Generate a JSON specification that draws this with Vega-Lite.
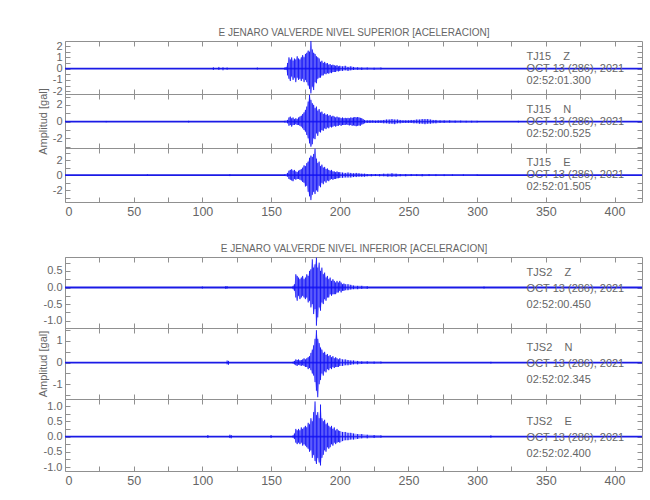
{
"$schema": "https://vega.github.io/schema/vega-lite/v6.json",
"padding": {"left": 36, "top": 27, "right": 5, "bottom": 5},
"background": "white",
"spacing": 26,
"datasets": {
"base": [{"p":1,"t0":0,"t1":420,"z":0},{"p":2,"t0":0,"t1":420,"z":0},{"p":3,"t0":0,"t1":420,"z":0},{"p":4,"t0":0,"t1":420,"z":0},{"p":5,"t0":0,"t1":420,"z":0},{"p":6,"t0":0,"t1":420,"z":0}],
"lab": [
{"p":1,"tx":336,"z":0,"s":"TJ15\u00a0\u00a0\u00a0\u00a0Z\nOCT 13 (286), 2021\n02:52:01.300"},
{"p":2,"tx":336,"z":0,"s":"TJ15\u00a0\u00a0\u00a0\u00a0N\nOCT 13 (286), 2021\n02:52:00.525"},
{"p":3,"tx":336,"z":0,"s":"TJ15\u00a0\u00a0\u00a0\u00a0E\nOCT 13 (286), 2021\n02:52:01.505"},
{"p":4,"tx":336,"z":0,"s":"TJS2\u00a0\u00a0\u00a0\u00a0Z\nOCT 13 (286), 2021\n02:52:00.450"},
{"p":5,"tx":336,"z":0,"s":"TJS2\u00a0\u00a0\u00a0\u00a0N\nOCT 13 (286), 2021\n02:52:02.345"},
{"p":6,"tx":336,"z":0,"s":"TJS2\u00a0\u00a0\u00a0\u00a0E\nOCT 13 (286), 2021\n02:52:02.400"}],
"noise": [
{"p":1,"t":108,"hi":0.12,"lo":-0.12},{"p":1,"t":112,"hi":0.15,"lo":-0.12},{"p":1,"t":115,"hi":0.12,"lo":-0.15},{"p":1,"t":118,"hi":0.1,"lo":-0.1},{"p":1,"t":140,"hi":0.1,"lo":-0.08},{"p":1,"t":337,"hi":0.1,"lo":-0.08},{"p":1,"t":345,"hi":0.08,"lo":-0.1},
{"p":2,"t":30,"hi":0.08,"lo":-0.08},{"p":2,"t":90,"hi":0.1,"lo":-0.1},{"p":2,"t":330,"hi":0.1,"lo":-0.1},
{"p":3,"t":60,"hi":0.1,"lo":-0.1},{"p":3,"t":120,"hi":0.12,"lo":-0.12},{"p":3,"t":340,"hi":0.1,"lo":-0.1},
{"p":4,"t":100,"hi":0.03,"lo":-0.03},{"p":4,"t":117,"hi":0.04,"lo":-0.04},{"p":4,"t":118,"hi":0.04,"lo":-0.03},{"p":4,"t":305,"hi":0.03,"lo":-0.03},
{"p":5,"t":118,"hi":0.1,"lo":-0.08},{"p":5,"t":119,"hi":0.08,"lo":-0.1},{"p":5,"t":310,"hi":0.04,"lo":-0.04},
{"p":6,"t":104,"hi":0.05,"lo":-0.05},{"p":6,"t":120,"hi":0.06,"lo":-0.05},{"p":6,"t":121,"hi":0.05,"lo":-0.06},{"p":6,"t":150,"hi":0.05,"lo":-0.05},{"p":6,"t":310,"hi":0.04,"lo":-0.04}],
"env": [
{"p":1,"t":160,"hi":0.1,"lo":-0.1},{"p":1,"t":161,"hi":0.15,"lo":-0.12},{"p":1,"t":162,"hi":0.5,"lo":-0.6},{"p":1,"t":163,"hi":1.0,"lo":-0.9},{"p":1,"t":164,"hi":0.8,"lo":-1.1},{"p":1,"t":165,"hi":1.0,"lo":-0.7},{"p":1,"t":166,"hi":0.7,"lo":-1.0},{"p":1,"t":167,"hi":0.9,"lo":-0.8},{"p":1,"t":168,"hi":0.8,"lo":-1.2},{"p":1,"t":169,"hi":1.1,"lo":-0.8},{"p":1,"t":170,"hi":0.9,"lo":-1.0},{"p":1,"t":171,"hi":0.8,"lo":-0.9},{"p":1,"t":172,"hi":1.0,"lo":-1.1},{"p":1,"t":173,"hi":1.2,"lo":-0.9},{"p":1,"t":174,"hi":1.0,"lo":-1.2},{"p":1,"t":175,"hi":1.3,"lo":-1.0},{"p":1,"t":176,"hi":1.4,"lo":-1.2},{"p":1,"t":177,"hi":1.6,"lo":-1.5},{"p":1,"t":178,"hi":1.5,"lo":-1.8},{"p":1,"t":179,"hi":2.45,"lo":-2.2},{"p":1,"t":180,"hi":1.7,"lo":-1.6},{"p":1,"t":181,"hi":1.4,"lo":-1.9},{"p":1,"t":182,"hi":1.3,"lo":-1.2},{"p":1,"t":183,"hi":1.1,"lo":-1.3},{"p":1,"t":184,"hi":1.0,"lo":-0.9},{"p":1,"t":185,"hi":0.9,"lo":-0.8},{"p":1,"t":186,"hi":0.6,"lo":-0.8},{"p":1,"t":187,"hi":0.7,"lo":-0.6},{"p":1,"t":188,"hi":0.5,"lo":-0.6},{"p":1,"t":189,"hi":0.6,"lo":-0.45},{"p":1,"t":190,"hi":0.45,"lo":-0.5},{"p":1,"t":191,"hi":0.5,"lo":-0.4},{"p":1,"t":192,"hi":0.35,"lo":-0.45},{"p":1,"t":193,"hi":0.4,"lo":-0.35},{"p":1,"t":194,"hi":0.3,"lo":-0.4},{"p":1,"t":195,"hi":0.35,"lo":-0.3},{"p":1,"t":196,"hi":0.3,"lo":-0.3},{"p":1,"t":197,"hi":0.25,"lo":-0.3},{"p":1,"t":198,"hi":0.3,"lo":-0.2},{"p":1,"t":199,"hi":0.2,"lo":-0.25},{"p":1,"t":200,"hi":0.25,"lo":-0.2},{"p":1,"t":202,"hi":0.2,"lo":-0.2},{"p":1,"t":204,"hi":0.25,"lo":-0.15},{"p":1,"t":206,"hi":0.15,"lo":-0.2},{"p":1,"t":208,"hi":0.2,"lo":-0.15},{"p":1,"t":210,"hi":0.15,"lo":-0.12},{"p":1,"t":213,"hi":0.12,"lo":-0.1},{"p":1,"t":216,"hi":0.1,"lo":-0.12},{"p":1,"t":220,"hi":0.1,"lo":-0.08},{"p":1,"t":225,"hi":0.08,"lo":-0.1},{"p":1,"t":230,"hi":0.1,"lo":-0.08},
{"p":2,"t":160,"hi":0.1,"lo":-0.1},{"p":2,"t":162,"hi":0.2,"lo":-0.2},{"p":2,"t":163,"hi":0.5,"lo":-0.5},{"p":2,"t":164,"hi":0.6,"lo":-0.4},{"p":2,"t":165,"hi":0.4,"lo":-0.6},{"p":2,"t":166,"hi":0.5,"lo":-0.4},{"p":2,"t":167,"hi":0.3,"lo":-0.4},{"p":2,"t":168,"hi":0.4,"lo":-0.3},{"p":2,"t":169,"hi":0.3,"lo":-0.4},{"p":2,"t":170,"hi":0.5,"lo":-0.4},{"p":2,"t":171,"hi":0.6,"lo":-0.5},{"p":2,"t":172,"hi":0.7,"lo":-0.6},{"p":2,"t":173,"hi":0.9,"lo":-0.8},{"p":2,"t":174,"hi":1.1,"lo":-1.0},{"p":2,"t":175,"hi":1.4,"lo":-1.2},{"p":2,"t":176,"hi":1.8,"lo":-1.6},{"p":2,"t":177,"hi":2.4,"lo":-2.0},{"p":2,"t":178,"hi":3.2,"lo":-2.6},{"p":2,"t":179,"hi":2.6,"lo":-3.0},{"p":2,"t":180,"hi":2.2,"lo":-2.7},{"p":2,"t":181,"hi":2.0,"lo":-2.0},{"p":2,"t":182,"hi":1.6,"lo":-2.1},{"p":2,"t":183,"hi":1.8,"lo":-1.4},{"p":2,"t":184,"hi":1.3,"lo":-1.7},{"p":2,"t":185,"hi":1.5,"lo":-1.2},{"p":2,"t":186,"hi":1.1,"lo":-1.3},{"p":2,"t":187,"hi":1.2,"lo":-1.0},{"p":2,"t":188,"hi":0.9,"lo":-1.1},{"p":2,"t":189,"hi":1.0,"lo":-0.8},{"p":2,"t":190,"hi":0.8,"lo":-0.9},{"p":2,"t":191,"hi":0.9,"lo":-0.7},{"p":2,"t":192,"hi":0.7,"lo":-0.8},{"p":2,"t":193,"hi":0.8,"lo":-0.6},{"p":2,"t":194,"hi":0.6,"lo":-0.7},{"p":2,"t":195,"hi":0.7,"lo":-0.6},{"p":2,"t":196,"hi":0.6,"lo":-0.5},{"p":2,"t":197,"hi":0.5,"lo":-0.6},{"p":2,"t":198,"hi":0.6,"lo":-0.5},{"p":2,"t":199,"hi":0.5,"lo":-0.5},{"p":2,"t":200,"hi":0.5,"lo":-0.4},{"p":2,"t":201,"hi":0.4,"lo":-0.5},{"p":2,"t":202,"hi":0.5,"lo":-0.4},{"p":2,"t":203,"hi":0.4,"lo":-0.4},{"p":2,"t":204,"hi":0.45,"lo":-0.4},{"p":2,"t":205,"hi":0.4,"lo":-0.35},{"p":2,"t":206,"hi":0.45,"lo":-0.4},{"p":2,"t":207,"hi":0.4,"lo":-0.45},{"p":2,"t":208,"hi":0.5,"lo":-0.4},{"p":2,"t":209,"hi":0.45,"lo":-0.5},{"p":2,"t":210,"hi":0.5,"lo":-0.45},{"p":2,"t":211,"hi":0.55,"lo":-0.5},{"p":2,"t":212,"hi":0.5,"lo":-0.55},{"p":2,"t":213,"hi":0.55,"lo":-0.5},{"p":2,"t":214,"hi":0.5,"lo":-0.45},{"p":2,"t":215,"hi":0.45,"lo":-0.5},{"p":2,"t":216,"hi":0.4,"lo":-0.35},{"p":2,"t":217,"hi":0.3,"lo":-0.3},{"p":2,"t":218,"hi":0.2,"lo":-0.2},{"p":2,"t":220,"hi":0.15,"lo":-0.15},{"p":2,"t":222,"hi":0.15,"lo":-0.15},{"p":2,"t":224,"hi":0.15,"lo":-0.12},{"p":2,"t":226,"hi":0.12,"lo":-0.15},{"p":2,"t":228,"hi":0.15,"lo":-0.15},{"p":2,"t":230,"hi":0.15,"lo":-0.15},{"p":2,"t":232,"hi":0.2,"lo":-0.2},{"p":2,"t":234,"hi":0.25,"lo":-0.2},{"p":2,"t":236,"hi":0.25,"lo":-0.25},{"p":2,"t":238,"hi":0.3,"lo":-0.25},{"p":2,"t":240,"hi":0.25,"lo":-0.3},{"p":2,"t":242,"hi":0.25,"lo":-0.2},{"p":2,"t":244,"hi":0.2,"lo":-0.2},{"p":2,"t":246,"hi":0.15,"lo":-0.15},{"p":2,"t":248,"hi":0.15,"lo":-0.15},{"p":2,"t":250,"hi":0.15,"lo":-0.15},{"p":2,"t":252,"hi":0.2,"lo":-0.15},{"p":2,"t":254,"hi":0.2,"lo":-0.2},{"p":2,"t":256,"hi":0.25,"lo":-0.2},{"p":2,"t":258,"hi":0.25,"lo":-0.25},{"p":2,"t":260,"hi":0.3,"lo":-0.25},{"p":2,"t":262,"hi":0.3,"lo":-0.3},{"p":2,"t":264,"hi":0.3,"lo":-0.25},{"p":2,"t":266,"hi":0.25,"lo":-0.25},{"p":2,"t":268,"hi":0.2,"lo":-0.2},{"p":2,"t":270,"hi":0.2,"lo":-0.2},{"p":2,"t":273,"hi":0.15,"lo":-0.15},{"p":2,"t":276,"hi":0.15,"lo":-0.15},{"p":2,"t":280,"hi":0.15,"lo":-0.12},{"p":2,"t":284,"hi":0.12,"lo":-0.12},{"p":2,"t":288,"hi":0.12,"lo":-0.1},{"p":2,"t":292,"hi":0.1,"lo":-0.1},{"p":2,"t":296,"hi":0.1,"lo":-0.1},{"p":2,"t":300,"hi":0.1,"lo":-0.1},
{"p":3,"t":160,"hi":0.1,"lo":-0.1},{"p":3,"t":162,"hi":0.3,"lo":-0.2},{"p":3,"t":163,"hi":0.6,"lo":-0.5},{"p":3,"t":164,"hi":0.7,"lo":-0.6},{"p":3,"t":165,"hi":0.8,"lo":-0.7},{"p":3,"t":166,"hi":0.6,"lo":-0.8},{"p":3,"t":167,"hi":0.7,"lo":-0.5},{"p":3,"t":168,"hi":0.5,"lo":-0.6},{"p":3,"t":169,"hi":0.4,"lo":-0.5},{"p":3,"t":170,"hi":0.6,"lo":-0.5},{"p":3,"t":171,"hi":0.7,"lo":-0.6},{"p":3,"t":172,"hi":0.8,"lo":-0.7},{"p":3,"t":173,"hi":1.0,"lo":-0.9},{"p":3,"t":174,"hi":1.3,"lo":-1.0},{"p":3,"t":175,"hi":1.2,"lo":-1.5},{"p":3,"t":176,"hi":1.6,"lo":-1.4},{"p":3,"t":177,"hi":1.8,"lo":-2.2},{"p":3,"t":178,"hi":2.3,"lo":-2.8},{"p":3,"t":179,"hi":2.6,"lo":-3.3},{"p":3,"t":180,"hi":2.4,"lo":-2.6},{"p":3,"t":181,"hi":2.8,"lo":-2.2},{"p":3,"t":182,"hi":3.5,"lo":-2.5},{"p":3,"t":183,"hi":2.2,"lo":-2.0},{"p":3,"t":184,"hi":1.6,"lo":-2.2},{"p":3,"t":185,"hi":1.8,"lo":-1.4},{"p":3,"t":186,"hi":1.2,"lo":-1.6},{"p":3,"t":187,"hi":1.4,"lo":-1.0},{"p":3,"t":188,"hi":1.0,"lo":-1.2},{"p":3,"t":189,"hi":1.1,"lo":-0.8},{"p":3,"t":190,"hi":0.8,"lo":-1.0},{"p":3,"t":191,"hi":0.9,"lo":-0.7},{"p":3,"t":192,"hi":0.7,"lo":-0.8},{"p":3,"t":193,"hi":0.6,"lo":-0.6},{"p":3,"t":194,"hi":0.7,"lo":-0.5},{"p":3,"t":195,"hi":0.5,"lo":-0.6},{"p":3,"t":196,"hi":0.5,"lo":-0.5},{"p":3,"t":197,"hi":0.4,"lo":-0.5},{"p":3,"t":198,"hi":0.5,"lo":-0.4},{"p":3,"t":199,"hi":0.4,"lo":-0.4},{"p":3,"t":200,"hi":0.4,"lo":-0.35},{"p":3,"t":202,"hi":0.35,"lo":-0.35},{"p":3,"t":204,"hi":0.3,"lo":-0.3},{"p":3,"t":206,"hi":0.35,"lo":-0.3},{"p":3,"t":208,"hi":0.3,"lo":-0.3},{"p":3,"t":210,"hi":0.25,"lo":-0.25},{"p":3,"t":212,"hi":0.3,"lo":-0.25},{"p":3,"t":214,"hi":0.25,"lo":-0.2},{"p":3,"t":216,"hi":0.2,"lo":-0.2},{"p":3,"t":218,"hi":0.2,"lo":-0.2},{"p":3,"t":220,"hi":0.15,"lo":-0.15},{"p":3,"t":223,"hi":0.15,"lo":-0.15},{"p":3,"t":226,"hi":0.15,"lo":-0.12},{"p":3,"t":229,"hi":0.15,"lo":-0.15},{"p":3,"t":232,"hi":0.2,"lo":-0.15},{"p":3,"t":235,"hi":0.2,"lo":-0.2},{"p":3,"t":238,"hi":0.25,"lo":-0.2},{"p":3,"t":241,"hi":0.2,"lo":-0.2},{"p":3,"t":244,"hi":0.15,"lo":-0.15},{"p":3,"t":248,"hi":0.15,"lo":-0.15},{"p":3,"t":252,"hi":0.15,"lo":-0.12},{"p":3,"t":256,"hi":0.12,"lo":-0.12},{"p":3,"t":260,"hi":0.15,"lo":-0.15},{"p":3,"t":265,"hi":0.15,"lo":-0.12},{"p":3,"t":270,"hi":0.12,"lo":-0.12},{"p":3,"t":276,"hi":0.1,"lo":-0.12},{"p":3,"t":282,"hi":0.1,"lo":-0.1},{"p":3,"t":290,"hi":0.1,"lo":-0.1},{"p":3,"t":300,"hi":0.1,"lo":-0.08},
{"p":4,"t":166,"hi":0.05,"lo":-0.05},{"p":4,"t":167,"hi":0.1,"lo":-0.1},{"p":4,"t":168,"hi":0.4,"lo":-0.3},{"p":4,"t":169,"hi":0.35,"lo":-0.4},{"p":4,"t":170,"hi":0.3,"lo":-0.25},{"p":4,"t":171,"hi":0.25,"lo":-0.35},{"p":4,"t":172,"hi":0.3,"lo":-0.3},{"p":4,"t":173,"hi":0.35,"lo":-0.25},{"p":4,"t":174,"hi":0.25,"lo":-0.3},{"p":4,"t":175,"hi":0.3,"lo":-0.35},{"p":4,"t":176,"hi":0.4,"lo":-0.3},{"p":4,"t":177,"hi":0.35,"lo":-0.45},{"p":4,"t":178,"hi":0.5,"lo":-0.4},{"p":4,"t":179,"hi":0.55,"lo":-0.6},{"p":4,"t":180,"hi":0.85,"lo":-0.5},{"p":4,"t":181,"hi":0.6,"lo":-0.8},{"p":4,"t":182,"hi":0.7,"lo":-0.65},{"p":4,"t":183,"hi":0.9,"lo":-1.15},{"p":4,"t":184,"hi":0.6,"lo":-0.9},{"p":4,"t":185,"hi":0.75,"lo":-0.6},{"p":4,"t":186,"hi":0.5,"lo":-0.7},{"p":4,"t":187,"hi":0.6,"lo":-0.45},{"p":4,"t":188,"hi":0.4,"lo":-0.5},{"p":4,"t":189,"hi":0.45,"lo":-0.35},{"p":4,"t":190,"hi":0.3,"lo":-0.4},{"p":4,"t":191,"hi":0.35,"lo":-0.3},{"p":4,"t":192,"hi":0.25,"lo":-0.3},{"p":4,"t":193,"hi":0.3,"lo":-0.2},{"p":4,"t":194,"hi":0.2,"lo":-0.25},{"p":4,"t":195,"hi":0.25,"lo":-0.2},{"p":4,"t":196,"hi":0.2,"lo":-0.2},{"p":4,"t":197,"hi":0.15,"lo":-0.2},{"p":4,"t":198,"hi":0.2,"lo":-0.15},{"p":4,"t":199,"hi":0.15,"lo":-0.15},{"p":4,"t":200,"hi":0.2,"lo":-0.1},{"p":4,"t":201,"hi":0.15,"lo":-0.15},{"p":4,"t":202,"hi":0.1,"lo":-0.1},{"p":4,"t":203,"hi":0.12,"lo":-0.1},{"p":4,"t":204,"hi":0.1,"lo":-0.08},{"p":4,"t":206,"hi":0.1,"lo":-0.08},{"p":4,"t":208,"hi":0.08,"lo":-0.06},{"p":4,"t":210,"hi":0.06,"lo":-0.05},{"p":4,"t":213,"hi":0.05,"lo":-0.05},{"p":4,"t":216,"hi":0.05,"lo":-0.04},{"p":4,"t":220,"hi":0.04,"lo":-0.04},
{"p":5,"t":166,"hi":0.04,"lo":-0.04},{"p":5,"t":167,"hi":0.08,"lo":-0.08},{"p":5,"t":168,"hi":0.15,"lo":-0.12},{"p":5,"t":169,"hi":0.12,"lo":-0.15},{"p":5,"t":170,"hi":0.15,"lo":-0.1},{"p":5,"t":171,"hi":0.1,"lo":-0.12},{"p":5,"t":172,"hi":0.12,"lo":-0.15},{"p":5,"t":173,"hi":0.15,"lo":-0.12},{"p":5,"t":174,"hi":0.2,"lo":-0.15},{"p":5,"t":175,"hi":0.15,"lo":-0.2},{"p":5,"t":176,"hi":0.2,"lo":-0.2},{"p":5,"t":177,"hi":0.25,"lo":-0.3},{"p":5,"t":178,"hi":0.3,"lo":-0.25},{"p":5,"t":179,"hi":0.45,"lo":-0.35},{"p":5,"t":180,"hi":0.6,"lo":-0.5},{"p":5,"t":181,"hi":0.8,"lo":-0.6},{"p":5,"t":182,"hi":1.1,"lo":-0.9},{"p":5,"t":183,"hi":1.5,"lo":-1.3},{"p":5,"t":184,"hi":1.1,"lo":-1.6},{"p":5,"t":185,"hi":0.9,"lo":-1.0},{"p":5,"t":186,"hi":0.7,"lo":-0.8},{"p":5,"t":187,"hi":0.6,"lo":-0.5},{"p":5,"t":188,"hi":0.45,"lo":-0.6},{"p":5,"t":189,"hi":0.5,"lo":-0.4},{"p":5,"t":190,"hi":0.35,"lo":-0.45},{"p":5,"t":191,"hi":0.4,"lo":-0.3},{"p":5,"t":192,"hi":0.3,"lo":-0.35},{"p":5,"t":193,"hi":0.35,"lo":-0.25},{"p":5,"t":194,"hi":0.25,"lo":-0.3},{"p":5,"t":195,"hi":0.3,"lo":-0.2},{"p":5,"t":196,"hi":0.2,"lo":-0.25},{"p":5,"t":197,"hi":0.25,"lo":-0.2},{"p":5,"t":198,"hi":0.2,"lo":-0.2},{"p":5,"t":199,"hi":0.15,"lo":-0.2},{"p":5,"t":200,"hi":0.2,"lo":-0.15},{"p":5,"t":202,"hi":0.15,"lo":-0.15},{"p":5,"t":204,"hi":0.15,"lo":-0.12},{"p":5,"t":206,"hi":0.12,"lo":-0.12},{"p":5,"t":208,"hi":0.1,"lo":-0.1},{"p":5,"t":210,"hi":0.1,"lo":-0.08},{"p":5,"t":213,"hi":0.08,"lo":-0.08},{"p":5,"t":216,"hi":0.06,"lo":-0.06},{"p":5,"t":220,"hi":0.06,"lo":-0.05},{"p":5,"t":225,"hi":0.05,"lo":-0.05},{"p":5,"t":230,"hi":0.05,"lo":-0.04},
{"p":6,"t":166,"hi":0.04,"lo":-0.04},{"p":6,"t":167,"hi":0.1,"lo":-0.08},{"p":6,"t":168,"hi":0.25,"lo":-0.2},{"p":6,"t":169,"hi":0.2,"lo":-0.25},{"p":6,"t":170,"hi":0.25,"lo":-0.2},{"p":6,"t":171,"hi":0.2,"lo":-0.25},{"p":6,"t":172,"hi":0.3,"lo":-0.2},{"p":6,"t":173,"hi":0.25,"lo":-0.3},{"p":6,"t":174,"hi":0.3,"lo":-0.25},{"p":6,"t":175,"hi":0.35,"lo":-0.3},{"p":6,"t":176,"hi":0.3,"lo":-0.35},{"p":6,"t":177,"hi":0.45,"lo":-0.4},{"p":6,"t":178,"hi":0.4,"lo":-0.5},{"p":6,"t":179,"hi":0.6,"lo":-0.45},{"p":6,"t":180,"hi":0.5,"lo":-0.7},{"p":6,"t":181,"hi":0.8,"lo":-0.6},{"p":6,"t":182,"hi":1.15,"lo":-0.8},{"p":6,"t":183,"hi":0.7,"lo":-0.9},{"p":6,"t":184,"hi":0.8,"lo":-0.7},{"p":6,"t":185,"hi":0.6,"lo":-0.85},{"p":6,"t":186,"hi":1.05,"lo":-0.95},{"p":6,"t":187,"hi":0.6,"lo":-0.7},{"p":6,"t":188,"hi":0.5,"lo":-0.6},{"p":6,"t":189,"hi":0.55,"lo":-0.45},{"p":6,"t":190,"hi":0.4,"lo":-0.5},{"p":6,"t":191,"hi":0.45,"lo":-0.35},{"p":6,"t":192,"hi":0.35,"lo":-0.4},{"p":6,"t":193,"hi":0.3,"lo":-0.35},{"p":6,"t":194,"hi":0.35,"lo":-0.25},{"p":6,"t":195,"hi":0.25,"lo":-0.3},{"p":6,"t":196,"hi":0.3,"lo":-0.2},{"p":6,"t":197,"hi":0.2,"lo":-0.25},{"p":6,"t":198,"hi":0.25,"lo":-0.2},{"p":6,"t":199,"hi":0.2,"lo":-0.18},{"p":6,"t":200,"hi":0.18,"lo":-0.2},{"p":6,"t":202,"hi":0.15,"lo":-0.15},{"p":6,"t":204,"hi":0.15,"lo":-0.12},{"p":6,"t":206,"hi":0.12,"lo":-0.12},{"p":6,"t":208,"hi":0.12,"lo":-0.1},{"p":6,"t":210,"hi":0.1,"lo":-0.1},{"p":6,"t":213,"hi":0.08,"lo":-0.08},{"p":6,"t":216,"hi":0.08,"lo":-0.06},{"p":6,"t":220,"hi":0.06,"lo":-0.06},{"p":6,"t":225,"hi":0.05,"lo":-0.05},{"p":6,"t":230,"hi":0.04,"lo":-0.04}]
},
"vconcat": [
{"title": {"text": "E JENARO VALVERDE NIVEL SUPERIOR [ACELERACION]", "offset": 2, "dx": 14}, "spacing": 0, "bounds": "flush",
 "vconcat": [
  {"width": 577, "height": 53,
   "layer": [
    {"data": {"name": "base"}, "transform": [{"filter": "datum.p == 1"}], "mark": {"type": "rule", "color": "#1a1ae6", "strokeWidth": 1.8},
     "encoding": {"x": {"field": "t0", "type": "quantitative", "scale": {"domain": [0, 420], "nice": false, "zero": false}, "axis": {"orient": "bottom", "values": [0,25,50,75,100,125,150,175,200,225,250,275,300,325,350,375,400], "labels": false, "title": null}},
      "x2": {"field": "t1"},
      "y": {"field": "z", "type": "quantitative", "scale": {"domain": [-2.25, 2.45], "nice": false, "zero": false}, "axis": {"orient": "left", "values": [-2,-1.5,-1,-0.5,0,0.5,1,1.5,2], "labelExpr": "datum.value % 1 == 0 ? '' + datum.value : ''", "title": null, "minExtent": 15, "maxExtent": 15}}}},
    {"data": {"name": "env"}, "transform": [{"filter": "datum.p == 1"}], "mark": {"type": "area", "color": "#4a4aff", "opacity": 0.45},
     "encoding": {"x": {"field": "t", "type": "quantitative", "axis": null}, "y": {"field": "lo", "type": "quantitative", "axis": null}, "y2": {"field": "hi"}}},
    {"data": {"name": "env"}, "transform": [{"filter": "datum.p == 1"}], "mark": {"type": "rule", "color": "#1010f5", "strokeWidth": 1, "opacity": 0.95},
     "encoding": {"x": {"field": "t", "type": "quantitative", "axis": null}, "y": {"field": "lo", "type": "quantitative", "axis": null}, "y2": {"field": "hi"}}},
    {"data": {"name": "noise"}, "transform": [{"filter": "datum.p == 1"}], "mark": {"type": "rule", "color": "#1010f5", "strokeWidth": 1, "opacity": 0.95},
     "encoding": {"x": {"field": "t", "type": "quantitative", "axis": null}, "y": {"field": "lo", "type": "quantitative", "axis": null}, "y2": {"field": "hi"}}},
    {"data": {"name": "lab"}, "transform": [{"filter": "datum.p == 1"}], "mark": {"type": "text", "align": "left", "baseline": "middle", "lineBreak": "\n", "lineHeight": 12, "dy": -12, "fontSize": 11, "color": "#666"},
     "encoding": {"x": {"field": "tx", "type": "quantitative", "axis": {"orient": "top", "values": [0,25,50,75,100,125,150,175,200,225,250,275,300,325,350,375,400], "labels": false, "title": null}},
      "y": {"field": "z", "type": "quantitative", "axis": {"orient": "right", "values": [-2,-1.5,-1,-0.5,0,0.5,1,1.5,2], "labels": false, "title": null}},
      "text": {"field": "s"}}}
   ],
   "resolve": {"axis": {"x": "independent", "y": "independent"}}},
  {"width": 577, "height": 54,
   "layer": [
    {"data": {"name": "base"}, "transform": [{"filter": "datum.p == 2"}], "mark": {"type": "rule", "color": "#1a1ae6", "strokeWidth": 1.8},
     "encoding": {"x": {"field": "t0", "type": "quantitative", "scale": {"domain": [0, 420], "nice": false, "zero": false}, "axis": {"orient": "bottom", "values": [0,25,50,75,100,125,150,175,200,225,250,275,300,325,350,375,400], "labels": false, "title": null}},
      "x2": {"field": "t1"},
      "y": {"field": "z", "type": "quantitative", "scale": {"domain": [-3.15, 3.3], "nice": false, "zero": false}, "axis": {"orient": "left", "values": [-3,-2,-1,0,1,2,3], "labelExpr": "datum.value % 2 == 0 ? '' + datum.value : ''", "title": "Amplitud  [gal]", "titlePadding": 2, "minExtent": 15, "maxExtent": 15}}}},
    {"data": {"name": "env"}, "transform": [{"filter": "datum.p == 2"}], "mark": {"type": "area", "color": "#4a4aff", "opacity": 0.45},
     "encoding": {"x": {"field": "t", "type": "quantitative", "axis": null}, "y": {"field": "lo", "type": "quantitative", "axis": null}, "y2": {"field": "hi"}}},
    {"data": {"name": "env"}, "transform": [{"filter": "datum.p == 2"}], "mark": {"type": "rule", "color": "#1010f5", "strokeWidth": 1, "opacity": 0.95},
     "encoding": {"x": {"field": "t", "type": "quantitative", "axis": null}, "y": {"field": "lo", "type": "quantitative", "axis": null}, "y2": {"field": "hi"}}},
    {"data": {"name": "noise"}, "transform": [{"filter": "datum.p == 2"}], "mark": {"type": "rule", "color": "#1010f5", "strokeWidth": 1, "opacity": 0.95},
     "encoding": {"x": {"field": "t", "type": "quantitative", "axis": null}, "y": {"field": "lo", "type": "quantitative", "axis": null}, "y2": {"field": "hi"}}},
    {"data": {"name": "lab"}, "transform": [{"filter": "datum.p == 2"}], "mark": {"type": "text", "align": "left", "baseline": "middle", "lineBreak": "\n", "lineHeight": 12, "dy": -12, "fontSize": 11, "color": "#666"},
     "encoding": {"x": {"field": "tx", "type": "quantitative", "axis": {"orient": "top", "values": [0,25,50,75,100,125,150,175,200,225,250,275,300,325,350,375,400], "labels": false, "title": null}},
      "y": {"field": "z", "type": "quantitative", "axis": {"orient": "right", "values": [-3,-2,-1,0,1,2,3], "labels": false, "title": null}},
      "text": {"field": "s"}}}
   ],
   "resolve": {"axis": {"x": "independent", "y": "independent"}}},
  {"width": 577, "height": 54,
   "layer": [
    {"data": {"name": "base"}, "transform": [{"filter": "datum.p == 3"}], "mark": {"type": "rule", "color": "#1a1ae6", "strokeWidth": 1.8},
     "encoding": {"x": {"field": "t0", "type": "quantitative", "scale": {"domain": [0, 420], "nice": false, "zero": false}, "axis": {"orient": "bottom", "values": [0,25,50,75,100,125,150,175,200,225,250,275,300,325,350,375,400], "labelExpr": "datum.value % 50 == 0 ? datum.label : ''", "labelFontSize": 12.5, "title": null}},
      "x2": {"field": "t1"},
      "y": {"field": "z", "type": "quantitative", "scale": {"domain": [-3.55, 3.6], "nice": false, "zero": false}, "axis": {"orient": "left", "values": [-3,-2,-1,0,1,2,3], "labelExpr": "datum.value % 2 == 0 ? '' + datum.value : ''", "title": null, "minExtent": 15, "maxExtent": 15}}}},
    {"data": {"name": "env"}, "transform": [{"filter": "datum.p == 3"}], "mark": {"type": "area", "color": "#4a4aff", "opacity": 0.45},
     "encoding": {"x": {"field": "t", "type": "quantitative", "axis": null}, "y": {"field": "lo", "type": "quantitative", "axis": null}, "y2": {"field": "hi"}}},
    {"data": {"name": "env"}, "transform": [{"filter": "datum.p == 3"}], "mark": {"type": "rule", "color": "#1010f5", "strokeWidth": 1, "opacity": 0.95},
     "encoding": {"x": {"field": "t", "type": "quantitative", "axis": null}, "y": {"field": "lo", "type": "quantitative", "axis": null}, "y2": {"field": "hi"}}},
    {"data": {"name": "noise"}, "transform": [{"filter": "datum.p == 3"}], "mark": {"type": "rule", "color": "#1010f5", "strokeWidth": 1, "opacity": 0.95},
     "encoding": {"x": {"field": "t", "type": "quantitative", "axis": null}, "y": {"field": "lo", "type": "quantitative", "axis": null}, "y2": {"field": "hi"}}},
    {"data": {"name": "lab"}, "transform": [{"filter": "datum.p == 3"}], "mark": {"type": "text", "align": "left", "baseline": "middle", "lineBreak": "\n", "lineHeight": 12, "dy": -12, "fontSize": 11, "color": "#666"},
     "encoding": {"x": {"field": "tx", "type": "quantitative", "axis": {"orient": "top", "values": [0,25,50,75,100,125,150,175,200,225,250,275,300,325,350,375,400], "labels": false, "title": null}},
      "y": {"field": "z", "type": "quantitative", "axis": {"orient": "right", "values": [-3,-2,-1,0,1,2,3], "labels": false, "title": null}},
      "text": {"field": "s"}}}
   ],
   "resolve": {"axis": {"x": "independent", "y": "independent"}}}
 ]},
{"title": {"text": "E JENARO VALVERDE NIVEL INFERIOR [ACELERACION]", "offset": 2, "dx": 14}, "spacing": 0, "bounds": "flush",
 "vconcat": [
  {"width": 577, "height": 71,
   "layer": [
    {"data": {"name": "base"}, "transform": [{"filter": "datum.p == 4"}], "mark": {"type": "rule", "color": "#1a1ae6", "strokeWidth": 1.8},
     "encoding": {"x": {"field": "t0", "type": "quantitative", "scale": {"domain": [0, 420], "nice": false, "zero": false}, "axis": {"orient": "bottom", "values": [0,25,50,75,100,125,150,175,200,225,250,275,300,325,350,375,400], "labels": false, "title": null}},
      "x2": {"field": "t1"},
      "y": {"field": "z", "type": "quantitative", "scale": {"domain": [-1.22, 0.92], "nice": false, "zero": false}, "axis": {"orient": "left", "values": [-1,-0.75,-0.5,-0.25,0,0.25,0.5,0.75], "labelExpr": "datum.value % 0.5 == 0 ? replace(format(datum.value, '.1f'), '\u2212', '-') : ''", "title": null, "minExtent": 15, "maxExtent": 15}}}},
    {"data": {"name": "env"}, "transform": [{"filter": "datum.p == 4"}], "mark": {"type": "area", "color": "#4a4aff", "opacity": 0.45},
     "encoding": {"x": {"field": "t", "type": "quantitative", "axis": null}, "y": {"field": "lo", "type": "quantitative", "axis": null}, "y2": {"field": "hi"}}},
    {"data": {"name": "env"}, "transform": [{"filter": "datum.p == 4"}], "mark": {"type": "rule", "color": "#1010f5", "strokeWidth": 1, "opacity": 0.95},
     "encoding": {"x": {"field": "t", "type": "quantitative", "axis": null}, "y": {"field": "lo", "type": "quantitative", "axis": null}, "y2": {"field": "hi"}}},
    {"data": {"name": "noise"}, "transform": [{"filter": "datum.p == 4"}], "mark": {"type": "rule", "color": "#1010f5", "strokeWidth": 1, "opacity": 0.95},
     "encoding": {"x": {"field": "t", "type": "quantitative", "axis": null}, "y": {"field": "lo", "type": "quantitative", "axis": null}, "y2": {"field": "hi"}}},
    {"data": {"name": "lab"}, "transform": [{"filter": "datum.p == 4"}], "mark": {"type": "text", "align": "left", "baseline": "middle", "lineBreak": "\n", "lineHeight": 16, "dy": -15, "fontSize": 11, "color": "#666"},
     "encoding": {"x": {"field": "tx", "type": "quantitative", "axis": {"orient": "top", "values": [0,25,50,75,100,125,150,175,200,225,250,275,300,325,350,375,400], "labels": false, "title": null}},
      "y": {"field": "z", "type": "quantitative", "axis": {"orient": "right", "values": [-1,-0.75,-0.5,-0.25,0,0.25,0.5,0.75], "labels": false, "title": null}},
      "text": {"field": "s"}}}
   ],
   "resolve": {"axis": {"x": "independent", "y": "independent"}}},
  {"width": 577, "height": 71,
   "layer": [
    {"data": {"name": "base"}, "transform": [{"filter": "datum.p == 5"}], "mark": {"type": "rule", "color": "#1a1ae6", "strokeWidth": 1.8},
     "encoding": {"x": {"field": "t0", "type": "quantitative", "scale": {"domain": [0, 420], "nice": false, "zero": false}, "axis": {"orient": "bottom", "values": [0,25,50,75,100,125,150,175,200,225,250,275,300,325,350,375,400], "labels": false, "title": null}},
      "x2": {"field": "t1"},
      "y": {"field": "z", "type": "quantitative", "scale": {"domain": [-1.68, 1.6], "nice": false, "zero": false}, "axis": {"orient": "left", "values": [-1.5,-1,-0.5,0,0.5,1,1.5], "labelExpr": "datum.value % 1 == 0 ? '' + datum.value : ''", "title": "Amplitud  [gal]", "titlePadding": 2, "minExtent": 15, "maxExtent": 15}}}},
    {"data": {"name": "env"}, "transform": [{"filter": "datum.p == 5"}], "mark": {"type": "area", "color": "#4a4aff", "opacity": 0.45},
     "encoding": {"x": {"field": "t", "type": "quantitative", "axis": null}, "y": {"field": "lo", "type": "quantitative", "axis": null}, "y2": {"field": "hi"}}},
    {"data": {"name": "env"}, "transform": [{"filter": "datum.p == 5"}], "mark": {"type": "rule", "color": "#1010f5", "strokeWidth": 1, "opacity": 0.95},
     "encoding": {"x": {"field": "t", "type": "quantitative", "axis": null}, "y": {"field": "lo", "type": "quantitative", "axis": null}, "y2": {"field": "hi"}}},
    {"data": {"name": "noise"}, "transform": [{"filter": "datum.p == 5"}], "mark": {"type": "rule", "color": "#1010f5", "strokeWidth": 1, "opacity": 0.95},
     "encoding": {"x": {"field": "t", "type": "quantitative", "axis": null}, "y": {"field": "lo", "type": "quantitative", "axis": null}, "y2": {"field": "hi"}}},
    {"data": {"name": "lab"}, "transform": [{"filter": "datum.p == 5"}], "mark": {"type": "text", "align": "left", "baseline": "middle", "lineBreak": "\n", "lineHeight": 16, "dy": -15, "fontSize": 11, "color": "#666"},
     "encoding": {"x": {"field": "tx", "type": "quantitative", "axis": {"orient": "top", "values": [0,25,50,75,100,125,150,175,200,225,250,275,300,325,350,375,400], "labels": false, "title": null}},
      "y": {"field": "z", "type": "quantitative", "axis": {"orient": "right", "values": [-1.5,-1,-0.5,0,0.5,1,1.5], "labels": false, "title": null}},
      "text": {"field": "s"}}}
   ],
   "resolve": {"axis": {"x": "independent", "y": "independent"}}},
  {"width": 577, "height": 72,
   "layer": [
    {"data": {"name": "base"}, "transform": [{"filter": "datum.p == 6"}], "mark": {"type": "rule", "color": "#1a1ae6", "strokeWidth": 1.8},
     "encoding": {"x": {"field": "t0", "type": "quantitative", "scale": {"domain": [0, 420], "nice": false, "zero": false}, "axis": {"orient": "bottom", "values": [0,25,50,75,100,125,150,175,200,225,250,275,300,325,350,375,400], "labelExpr": "datum.value % 50 == 0 ? datum.label : ''", "labelFontSize": 12.5, "title": null}},
      "x2": {"field": "t1"},
      "y": {"field": "z", "type": "quantitative", "scale": {"domain": [-1.13, 1.23], "nice": false, "zero": false}, "axis": {"orient": "left", "values": [-1,-0.75,-0.5,-0.25,0,0.25,0.5,0.75,1], "labelExpr": "datum.value % 0.5 == 0 ? replace(format(datum.value, '.1f'), '\u2212', '-') : ''", "title": null, "minExtent": 15, "maxExtent": 15}}}},
    {"data": {"name": "env"}, "transform": [{"filter": "datum.p == 6"}], "mark": {"type": "area", "color": "#4a4aff", "opacity": 0.45},
     "encoding": {"x": {"field": "t", "type": "quantitative", "axis": null}, "y": {"field": "lo", "type": "quantitative", "axis": null}, "y2": {"field": "hi"}}},
    {"data": {"name": "env"}, "transform": [{"filter": "datum.p == 6"}], "mark": {"type": "rule", "color": "#1010f5", "strokeWidth": 1, "opacity": 0.95},
     "encoding": {"x": {"field": "t", "type": "quantitative", "axis": null}, "y": {"field": "lo", "type": "quantitative", "axis": null}, "y2": {"field": "hi"}}},
    {"data": {"name": "noise"}, "transform": [{"filter": "datum.p == 6"}], "mark": {"type": "rule", "color": "#1010f5", "strokeWidth": 1, "opacity": 0.95},
     "encoding": {"x": {"field": "t", "type": "quantitative", "axis": null}, "y": {"field": "lo", "type": "quantitative", "axis": null}, "y2": {"field": "hi"}}},
    {"data": {"name": "lab"}, "transform": [{"filter": "datum.p == 6"}], "mark": {"type": "text", "align": "left", "baseline": "middle", "lineBreak": "\n", "lineHeight": 16, "dy": -15, "fontSize": 11, "color": "#666"},
     "encoding": {"x": {"field": "tx", "type": "quantitative", "axis": {"orient": "top", "values": [0,25,50,75,100,125,150,175,200,225,250,275,300,325,350,375,400], "labels": false, "title": null}},
      "y": {"field": "z", "type": "quantitative", "axis": {"orient": "right", "values": [-1,-0.75,-0.5,-0.25,0,0.25,0.5,0.75,1], "labels": false, "title": null}},
      "text": {"field": "s"}}}
   ],
   "resolve": {"axis": {"x": "independent", "y": "independent"}}}
 ]}
],
"config": {
 "font": "Liberation Sans",
 "view": {"stroke": "#909090", "strokeWidth": 1},
 "axis": {"domain": false, "grid": false, "tickColor": "#909090", "tickSize": -5, "tickWidth": 1, "labelColor": "#666", "labelFontSize": 11, "labelPadding": 8, "titleColor": "#666", "titleFontWeight": "normal", "titleFontSize": 11},
 "title": {"color": "#666", "fontWeight": "normal", "fontSize": 10, "font": "Liberation Sans", "anchor": "middle"}
}
}
